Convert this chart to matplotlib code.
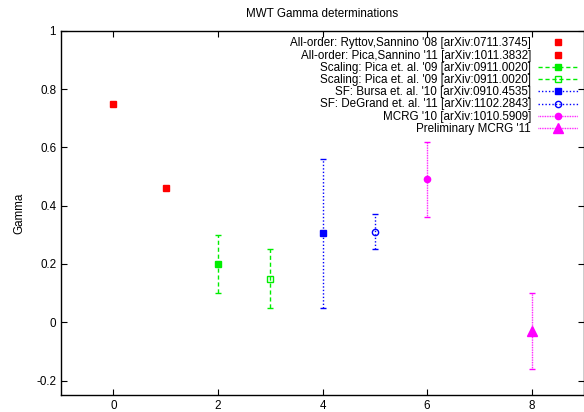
import matplotlib
matplotlib.use("Agg")
import matplotlib.pyplot as plt
from matplotlib.lines import Line2D

# point data: x, gamma, lower, upper
allorder_x = [0, 1]
allorder_y = [0.75, 0.46]

pica1_x, pica1_y, pica1_lo, pica1_hi = [2], [0.20], [0.10], [0.30]
pica2_x, pica2_y, pica2_lo, pica2_hi = [3], [0.15], [0.05], [0.25]
bursa_x, bursa_y, bursa_lo, bursa_hi = [4], [0.305], [0.05], [0.56]
degrand_x, degrand_y, degrand_lo, degrand_hi = [5], [0.31], [0.25], [0.37]
mcrg_x, mcrg_y, mcrg_lo, mcrg_hi = [6], [0.49], [0.36], [0.62]
prelim_x, prelim_y, prelim_lo, prelim_hi = [8], [-0.03], [-0.16], [0.10]

labels = [
    "All-order: Ryttov,Sannino '08 [arXiv:0711.3745]",
    "All-order: Pica,Sannino '11 [arXiv:1011.3832]",
    "Scaling: Pica et. al. '09 [arXiv:0911.0020]",
    "Scaling: Pica et. al. '09 [arXiv:0911.0020]",
    "SF: Bursa et. al. '10 [arXiv:0910.4535]",
    "SF: DeGrand et. al. '11 [arXiv:1102.2843]",
    "MCRG '10 [arXiv:1010.5909]",
    "Preliminary MCRG '11",
]


def err(y, lo, hi):
    return [[a - b for a, b in zip(y, lo)], [b - a for a, b in zip(y, hi)]]


FS = 8.4
plt.rcParams["font.family"] = "Liberation Sans"
plt.rcParams["font.size"] = FS

fig = plt.figure(figsize=(5.84, 4.12), dpi=100)
ax = fig.add_axes([0.1045, 0.041, 0.8955, 0.884])

handles = []
ax.plot(allorder_x[:1], allorder_y[:1], "s", color="red", ms=4.3, ls="none")
ax.plot(allorder_x[1:], allorder_y[1:], "s", color="red", ms=4.3, ls="none")
handles.append(Line2D([], [], marker="s", color="red", ms=4.3, ls="none"))
handles.append(Line2D([], [], marker="s", color="red", ms=4.3, ls="none"))

series = [
    (pica1_x, pica1_y, pica1_lo, pica1_hi, "#00ee00", "s", "full", (0, (3, 2))),
    (pica2_x, pica2_y, pica2_lo, pica2_hi, "#00ee00", "s", "none", (0, (3, 2))),
    (bursa_x, bursa_y, bursa_lo, bursa_hi, "blue", "s", "full", (0, (1, 1.5))),
    (degrand_x, degrand_y, degrand_lo, degrand_hi, "blue", "o", "none", (0, (1, 1.5))),
    (mcrg_x, mcrg_y, mcrg_lo, mcrg_hi, "magenta", "o", "full", (0, (0.6, 0.6))),
    (prelim_x, prelim_y, prelim_lo, prelim_hi, "magenta", "^", "full", (0, (0.6, 0.6))),
]
for x, y, lo, hi, c, m, fill, ls in series:
    ms = 7 if m == "^" else 4.5
    eb = ax.errorbar(x, y, yerr=err(y, lo, hi), fmt=m, color=c, ms=ms, fillstyle=fill,
                     mew=1.0, capsize=2.5, elinewidth=1.0, capthick=1.0)
    eb[-1][0].set_linestyle(ls)
    handles.append(Line2D([], [], marker=m, color=c, ms=ms, fillstyle=fill, mew=1.0,
                          lw=1.0, ls=ls))

ax.set_xlim(-1, 9)
ax.set_ylim(-0.25, 1)
ax.set_xticks([0, 2, 4, 6, 8])
ax.set_yticks([-0.2, 0, 0.2, 0.4, 0.6, 0.8, 1])
ax.set_yticklabels(["-0.2", "0", "0.2", "0.4", "0.6", "0.8", "1"])
ax.tick_params(direction="in", top=True, right=True, length=4, labelsize=FS)
for s in ax.spines.values():
    s.set_linewidth(1.0)
ax.set_ylabel("Gamma", fontsize=FS, labelpad=8)
ax.set_title("MWT Gamma determinations", fontsize=FS, pad=10)

ax.legend(handles, labels, loc="upper right", frameon=False, markerfirst=False,
          fontsize=FS, handlelength=3.4, labelspacing=0.02, borderaxespad=0.25,
          handletextpad=0.6, borderpad=0.3, handleheight=0.6)

fig.savefig("out.png", dpi=100)
